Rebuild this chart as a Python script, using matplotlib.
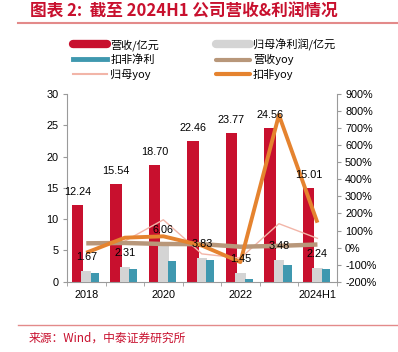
import matplotlib
matplotlib.use("Agg")
import matplotlib.pyplot as plt
from matplotlib.lines import Line2D
from matplotlib.ticker import FuncFormatter, MultipleLocator, FixedLocator
import numpy as np

plt.rcParams['font.family'] = ['Liberation Sans', 'Noto Sans CJK SC', 'DejaVu Sans']

# --------- DATA ---------
years = ["2018", "2019", "2020", "2021", "2022", "2023", "2024H1"]
revenue = [12.24, 15.54, 18.70, 22.46, 23.77, 24.56, 15.01]        # 营收/亿元
net_profit = [1.67, 2.31, 6.06, 3.83, 1.45, 3.48, 2.24]            # 归母净利润/亿元
deducted_profit = [1.40, 2.10, 3.30, 3.45, 0.38, 2.65, 2.10]       # 扣非净利
revenue_yoy = [25, 27, 21, 20, 5, 10, 18]                          # 营收yoy (%)
profit_yoy = [np.nan, 38, 163, -37, -62, 140, 54]                  # 归母yoy (%)
deducted_yoy = [-30, 58, 66, 12, -85, 777, 146]                    # 扣非yoy (%)
xtick_labels = ["2018", "", "2020", "", "2022", "", "2024H1"]

# --------- STYLE ---------
RED = "#C8102E"
GRAY = "#D4D4D4"
TEAL = "#3F98AF"
BROWN = "#B8977A"
PINK = "#F2B5A8"
ORANGE = "#E5832F"
SPINE = "#9A9A9A"
TITLE_RED = "#C8102E"

W, H = 398, 352
fig = plt.figure(figsize=(W / 100, H / 100), dpi=100)
ax = fig.add_axes([67 / W, 1 - 281.7 / H, (336.7 - 67) / W, (281.7 - 94) / H])
ax2 = ax.twinx()

x = np.arange(len(years))
ax.bar(x - 0.23, revenue, width=0.30, color=RED, zorder=2)
ax.bar(x, net_profit, width=0.27, color=GRAY, zorder=3)
ax.bar(x + 0.22, deducted_profit, width=0.215, color=TEAL, zorder=4)

ax2.plot(x, revenue_yoy, color=BROWN, lw=3.2, zorder=3, solid_capstyle='butt')
ax2.plot(x, profit_yoy, color=PINK, lw=1.0, zorder=2)
ax2.plot(x, deducted_yoy, color=ORANGE, lw=2.8, zorder=4, solid_capstyle='butt')

# data labels (drawn on ax2 so they sit above the lines)
for i in range(len(years)):
    ax2.annotate(f"{revenue[i]:.2f}", (x[i] - 0.23, revenue[i]), xycoords=ax.transData,
                 xytext=(0, 13), textcoords='offset pixels', ha='center', va='center',
                 fontsize=7.8, color="black", zorder=10)
    ax2.annotate(f"{net_profit[i]:.2f}", (x[i], net_profit[i]), xycoords=ax.transData,
                 xytext=(0, 14), textcoords='offset pixels', ha='center', va='center',
                 fontsize=7.8, color="black", zorder=10)

ax.set_xlim(-0.5, len(years) - 0.5)
ax.set_ylim(0, 30)
ax2.set_ylim(-200, 900)
ax.yaxis.set_major_locator(MultipleLocator(5))
ax2.yaxis.set_major_locator(MultipleLocator(100))
ax2.yaxis.set_major_formatter(FuncFormatter(lambda v, p: f"{v:.0f}%"))

ax.set_xticks(x)
ax.set_xticklabels(xtick_labels)
ax.xaxis.set_minor_locator(FixedLocator(np.arange(-0.5, len(years), 1.0)))
ax.tick_params(axis='x', which='major', length=0, labelsize=7.8, pad=6)
ax.tick_params(axis='x', which='minor', length=3, color=SPINE, direction='out')
ax.tick_params(axis='y', length=3, color=SPINE, labelsize=7.8, pad=3)
ax2.tick_params(axis='y', length=3, color=SPINE, labelsize=7.8, pad=3)

for a in (ax, ax2):
    a.spines['top'].set_visible(False)
    for s in ('left', 'right', 'bottom'):
        a.spines[s].set_color(SPINE)
        a.spines[s].set_linewidth(0.8)
ax.spines['right'].set_visible(False)
ax2.spines['left'].set_visible(False)
ax2.spines['bottom'].set_visible(False)
ax.set_zorder(1)
ax2.set_zorder(2)
ax2.patch.set_visible(False)

# --------- LEGEND ---------
handles = [
    Line2D([], [], color=RED, lw=6, solid_capstyle='round'),
    Line2D([], [], color=TEAL, lw=3.5),
    Line2D([], [], color=PINK, lw=1.5),
    Line2D([], [], color=GRAY, lw=6, solid_capstyle='round'),
    Line2D([], [], color=BROWN, lw=3, solid_capstyle='round'),
    Line2D([], [], color=ORANGE, lw=3, solid_capstyle='round'),
]
labels = ["营收/亿元", "扣非净利", "归母yoy", "归母净利润/亿元", "营收yoy", "扣非yoy"]
fig.legend(handles, labels, ncol=2, loc='upper left', bbox_to_anchor=(73 / W, 1 - 38.5 / H),
           frameon=False, handlelength=3.1, handletextpad=0.25,
           columnspacing=5.1, labelspacing=0.32, borderpad=0, borderaxespad=0,
           prop={'family': ['Noto Sans CJK SC', 'Liberation Sans'], 'size': 8})

# --------- TITLE / SOURCE ---------
fig.text(30 / W, 1 - 12 / H, "图表 2:  截至 2024H1 公司营收&利润情况", color=TITLE_RED,
         fontsize=12, fontweight='bold', va='center', ha='left',
         family=['Noto Sans CJK SC', 'Liberation Sans'])
fig.add_artist(Line2D([18 / W, 1], [1 - 23 / H, 1 - 23 / H], color="#E38A8A", lw=1.5,
                      transform=fig.transFigure))
fig.add_artist(Line2D([18 / W, 1], [1 - 325 / H, 1 - 325 / H], color="#E38A8A", lw=1.0,
                      transform=fig.transFigure))
fig.text(29 / W, 1 - 338 / H, "来源：Wind，中泰证券研究所", color=TITLE_RED,
         fontsize=8.5, va='center', ha='left', family=['Noto Sans CJK SC', 'Liberation Sans'])

fig.savefig("out.png", dpi=100)
